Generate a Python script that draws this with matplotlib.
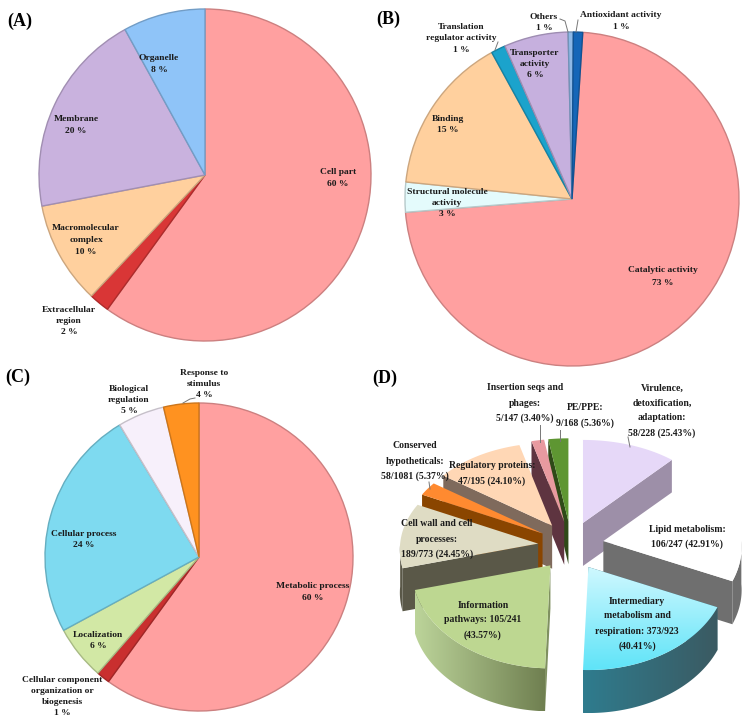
#!/usr/bin/env python3
# four GO / functional category pies, panel D is a hand built exploded 3D pie
import numpy as np
import matplotlib
matplotlib.use("Agg")
import matplotlib.pyplot as plt
from matplotlib.colors import LinearSegmentedColormap
from matplotlib.patches import Polygon

plt.rcParams['font.family'] = ['Liberation Serif', 'DejaVu Serif']

a_values = [60, 2, 10, 20, 8]
a_colors = ['#FFA0A0', '#D93636', '#FFD09E', '#C9B2DE', '#8FC4F8']

b_values = [72.7, 2.9, 15.4, 1.4, 6.2, 0.5, 0.9]
b_colors = ['#FFA0A0', '#E4FBFC', '#FFD09E', '#1BA3CC', '#C6B0DE', '#8DB8E6', '#1566B8']

c_values = [60, 1.4, 5.7, 24.3, 4.9, 3.7]
c_colors = ['#FFA0A0', '#C92F2F', '#D2E8A5', '#7EDAF0', '#F7F0FB', '#FF9220']

d_names = ['virulence', 'lipid', 'intermediary', 'information', 'cell wall',
           'conserved', 'regulatory', 'insertion', 'pe']
d_values = [25.43, 42.91, 40.41, 43.57, 24.45, 5.37, 24.10, 3.40, 5.36]
d_tops = ['#E6D8F8', '#FFFFFF', '#A8F0FF', '#BDD791', '#DFDCC4',
          '#FF8A30', '#FFD7B5', '#E89AA0', '#5E9632']
d_sides = ['#9D8FA8', '#6F6F6F', '#3A6A78', '#7F9060', '#5A5848',
           '#8A4500', '#7F6A5C', '#5E3440', '#2F4A18']

fig = plt.figure(figsize=(7.51, 7.22), dpi=100)
ax = fig.add_axes([0, 0, 1, 1])


def darker(col, f=0.72):
    r, g, b, _ = matplotlib.colors.to_rgba(col)
    return (r * f, g * f, b * f)


def flat_pie(values, colors, center, radius, start=0):
    # y axis is inverted, so increasing angle runs clockwise on screen
    wedges, _ = ax.pie(values, colors=colors, center=center, radius=radius,
                       startangle=start - 90, counterclock=True, frame=True,
                       wedgeprops=dict(linewidth=1.0))
    for w, c in zip(wedges, colors):
        w.set_edgecolor(darker(c, 0.8))


flat_pie(a_values, a_colors, (205, 175), 166)
flat_pie(b_values, b_colors, (572, 199), 167, start=3.7)
flat_pie(c_values, c_colors, (199, 557), 154)

# panel D
D_CENTER = (571, 546)
D_EXPLODE = 33
D_DEPTH = 43


def rim(theta):
    # the back of the pie is a bit smaller than the front (perspective)
    t = np.radians(theta)
    rx = 138 - 9 * np.cos(t)
    ry = 93 - 10 * np.cos(t)
    return rx * np.sin(t), -ry * np.cos(t)


def gradient_fill(poly, c0, c1, horizontal=False, zorder=3):
    cmap = LinearSegmentedColormap.from_list('g', [c0, c1])
    xy = poly.get_xy()
    x0, x1, y0, y1 = xy[:, 0].min(), xy[:, 0].max(), xy[:, 1].min(), xy[:, 1].max()
    grad = np.linspace(0, 1, 128)
    grad = grad[None, :] if horizontal else grad[:, None]
    im = ax.imshow(grad, cmap=cmap, extent=(x0, x1, y1, y0), aspect='auto', zorder=zorder)
    poly.set_facecolor('none')
    poly.set_edgecolor('none')
    ax.add_patch(poly)
    im.set_clip_path(poly)


angles = np.concatenate([[0], np.cumsum(d_values)]) / np.sum(d_values) * 360

slices = []
for i in range(len(d_values)):
    a0, a1 = angles[i], angles[i + 1]
    mid = np.radians((a0 + a1) / 2)
    ox = D_CENTER[0] + D_EXPLODE * np.sin(mid)
    oy = D_CENTER[1] - D_EXPLODE * 0.75 * np.cos(mid)
    slices.append((np.cos(mid), i, a0, a1, ox, oy))

# painter's order, back slices first
for _, i, a0, a1, ox, oy in sorted(slices, reverse=True):
    z = 2 + (1 - slices[i][0])
    side = d_sides[i]
    # radial wall on the lower edge of the slice
    wall = a1 if a1 <= 180 else a0
    wx, wy = rim(wall)
    depth = D_DEPTH
    ax.add_patch(Polygon([(ox, oy), (ox + wx, oy + wy), (ox + wx, oy + wy + depth),
                          (ox, oy + depth)], closed=True, facecolor=side,
                         edgecolor='none', zorder=z))
    # outer wall where the rim faces the viewer
    f0, f1 = max(a0, 90), min(a1, 270)
    if f1 > f0:
        th = np.linspace(f0, f1, 60)
        px, py = rim(th)
        pts = np.column_stack([np.r_[ox + px, (ox + px)[::-1]],
                               np.r_[oy + py, (oy + py + depth)[::-1]]])
        wall_poly = Polygon(pts, closed=True)
        if d_names[i] == 'intermediary':
            gradient_fill(wall_poly, '#2F7C8E', '#3B5A62', horizontal=True, zorder=z)
        elif d_names[i] == 'information':
            gradient_fill(wall_poly, '#BCD49A', '#6F7F50', horizontal=True, zorder=z)
        else:
            wall_poly.set_facecolor(side)
            wall_poly.set_edgecolor('none')
            wall_poly.set_zorder(z)
            ax.add_patch(wall_poly)
    # top face
    th = np.linspace(a0, a1, 80)
    px, py = rim(th)
    pts = np.column_stack([np.r_[ox, ox + px], np.r_[oy, oy + py]])
    top = Polygon(pts, closed=True)
    if d_names[i] == 'intermediary':
        gradient_fill(top, '#CFF8FF', '#5FE4F8', zorder=z + 0.1)
    else:
        top.set_facecolor(d_tops[i])
        top.set_edgecolor('none')
        top.set_zorder(z + 0.1)
        ax.add_patch(top)


def label(x, ys, lines, size=6.8, color='#1a1a1a'):
    for y, s in zip(ys, lines):
        ax.text(x, y, s, ha='center', va='center', fontsize=size, fontweight='bold',
                color=color, zorder=10)


def leader(xs, ys):
    ax.plot(xs, ys, color='#777777', lw=0.7, zorder=9)


for s, x, y in [('(A)', 20, 21), ('(B)', 388, 19), ('(C)', 18, 377), ('(D)', 385, 378)]:
    ax.text(x, y, s, ha='center', va='center', fontsize=13, fontweight='bold', color='black', zorder=10)

label(338, [172, 184], ['Cell part', '60 %'])
label(159, [58, 70], ['Organelle', '8 %'])
label(76, [119, 131], ['Membrane', '20 %'])
label(86, [228, 240, 252], ['Macromolecular', 'complex', '10 %'])
label(69, [310, 321, 332], ['Extracellular', 'region', '2 %'])

label(663, [270, 283], ['Catalytic activity', '73 %'])
label(448, [119, 130], ['Binding', '15 %'])
label(447, [192, 203, 214], ['Structural molecule', 'activity', '3 %'])
label(535, [53, 64, 75], ['Transporter', 'activity', '6 %'])
label(461, [27, 38, 50], ['Translation', 'regulator activity', '1 %'])
label(544, [17, 28], ['Others', '1 %'])
label(621, [15, 27], ['Antioxidant activity', '1 %'])
leader([498, 495], [42, 50])
leader([560, 565, 568], [19, 21, 32])
leader([578, 576], [20, 32])

label(313, [586, 598], ['Metabolic process', '60 %'])
label(84, [534, 545], ['Cellular process', '24 %'])
label(98, [635, 646], ['Localization', '6 %'])
label(62, [680, 691, 702, 713], ['Cellular component', 'organization or', 'biogenesis', '1 %'])
label(129, [389, 400, 411], ['Biological', 'regulation', '5 %'])
label(204, [373, 384, 395], ['Response to', 'stimulus', '4 %'])
leader([183, 190, 195], [403, 399, 398])

label(662, [388, 403, 418, 433], ['Virulence,', 'detoxification,', 'adaptation:', '58/228 (25.43%)'], size=7)
label(525, [388, 403, 418], ['Insertion seqs and', 'phages:', '5/147 (3.40%)'], size=7)
label(585, [408, 423], ['PE/PPE:', '9/168 (5.36%)'], size=7)
label(415, [446, 461, 476], ['Conserved', 'hypotheticals:', '58/1081 (5.37%)'], size=7)
label(492, [466, 481], ['Regulatory proteins:', '47/195 (24.10%)'], size=7)
label(437, [524, 539, 554], ['Cell wall and cell', 'processes:', '189/773 (24.45%)'], size=7)
label(687, [529, 544], ['Lipid metabolism:', '106/247 (42.91%)'], size=7)
label(637, [602, 616, 631, 646], ['Intermediary', 'metabolism and', 'respiration: 373/923', '(40.41%)'], size=7)
label(483, [605, 620, 635], ['Information', 'pathways: 105/241', '(43.57%)'], size=7)
leader([628, 630], [437, 447])
leader([540, 540], [425, 442])
leader([560, 560], [430, 441])
leader([429, 430], [482, 489])

ax.set_xlim(0, 751)
ax.set_ylim(722, 0)
ax.axis('off')
fig.savefig('out.png', dpi=100)
